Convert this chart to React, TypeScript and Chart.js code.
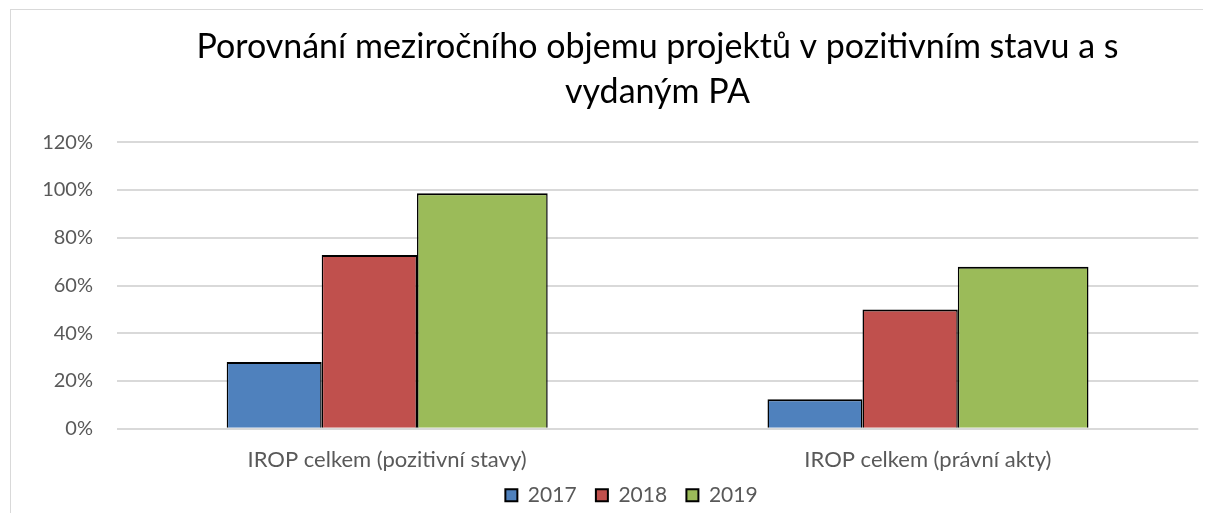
import React, { useEffect, useRef } from "react";
import { Chart, registerables } from "chart.js";

Chart.register(...registerables);

const categories = ["IROP celkem (pozitivní stavy)", "IROP celkem (právní akty)"];
const seriesLabels = ["2017", "2018", "2019"];
const values2017 = [0.279, 0.123];
const values2018 = [0.728, 0.499];
const values2019 = [0.987, 0.679];
const titleLines = ["Porovnání meziročního objemu projektů v pozitivním stavu a s", "vydaným PA"];
const yMin = 0;
const yMax = 1.2;
const yStep = 0.2;

const FONT = "Lato, 'Open Sans', sans-serif";
const barBorder = { top: 2, left: 1.5, right: 1.5, bottom: 0 };

// moves the legend row so it sits centred under the page-like frame, as in the source
const legendNudge = {
  id: "legendNudge",
  afterLayout(chart: any) {
    const lg = chart.legend;
    if (!lg) return;
    const dx = 26.85;
    const dy = -9.3;
    lg.left += dx;
    lg.right += dx;
    lg.top += dy;
    lg.bottom += dy;
  },
};

export default function App() {
  const ref = useRef<HTMLCanvasElement | null>(null);

  useEffect(() => {
    if (!ref.current) return;
    const chart = new Chart(ref.current, {
      type: "bar",
      data: {
        labels: categories,
        datasets: [
          {
            label: seriesLabels[0],
            data: values2017,
            backgroundColor: "#4f81bd",
            borderColor: "#000000",
            borderWidth: barBorder,
            categoryPercentage: 0.5568,
            barPercentage: 1.262,
          },
          {
            label: seriesLabels[1],
            data: values2018,
            backgroundColor: "#c0504d",
            borderColor: "#000000",
            borderWidth: barBorder,
            categoryPercentage: 0.2626,
            barPercentage: 2.685,
          },
          {
            label: seriesLabels[2],
            data: values2019,
            backgroundColor: "#9bbb59",
            borderColor: "#000000",
            borderWidth: barBorder,
            categoryPercentage: 1.409,
            barPercentage: 0.686,
          },
          {
            label: "",
            data: [],
            backgroundColor: "rgba(0,0,0,0)",
          },
        ],
      },
      options: {
        responsive: false,
        animation: false,
        layout: { padding: { left: 0, right: 53.7, top: 0, bottom: 0 } },
        plugins: {
          title: {
            display: true,
            text: titleLines,
            fullSize: false,
            color: "#000000",
            font: { family: FONT, size: 34, weight: "normal", lineHeight: "45px" },
            padding: { top: 14.6, bottom: 27.7 },
          },
          legend: {
            display: true,
            position: "bottom",
            labels: {
              color: "#595959",
              font: { family: FONT, size: 21 },
              boxWidth: 12,
              boxHeight: 12,
              padding: 19.3,
              generateLabels: (c: any) =>
                (Chart.defaults.plugins.legend.labels as any)
                  .generateLabels(c)
                  .map((l: any) => ({ ...l, lineWidth: 2, strokeStyle: "#000000" })),
              filter: (item: any) => item.text !== "",
            },
          },
          tooltip: { enabled: false },
        },
        scales: {
          x: {
            grid: { display: false, drawTicks: false },
            border: { display: false },
            ticks: {
              color: "#595959",
              font: { family: FONT, size: 22 },
              padding: 18.5,
              maxRotation: 0,
            },
            afterFit: (scale: any) => {
              scale.height = 46;
            },
          },
          y: {
            min: yMin,
            max: yMax,
            grid: { color: "#d9d9d9", lineWidth: 2, drawTicks: false },
            border: { display: false },
            ticks: {
              stepSize: yStep,
              color: "#595959",
              font: { family: FONT, size: 20 },
              padding: 23.7,
              callback: (v: any) => Math.round(Number(v) * 100) + "%",
            },
            afterFit: (scale: any) => {
              scale.width = 105.7;
            },
          },
        },
      },
      plugins: [legendNudge],
    });
    return () => chart.destroy();
  }, []);

  return (
    <div style={{ position: "relative", width: 1203, height: 505, overflow: "hidden" }}>
      <div
        style={{
          position: "absolute",
          left: 2,
          top: 1,
          width: 1300,
          height: 600,
          border: "1px solid #d9d9d9",
          background: "#ffffff",
        }}
      >
        <canvas ref={ref} width={1241} height={515} style={{ display: "block" }} />
      </div>
    </div>
  );
}
